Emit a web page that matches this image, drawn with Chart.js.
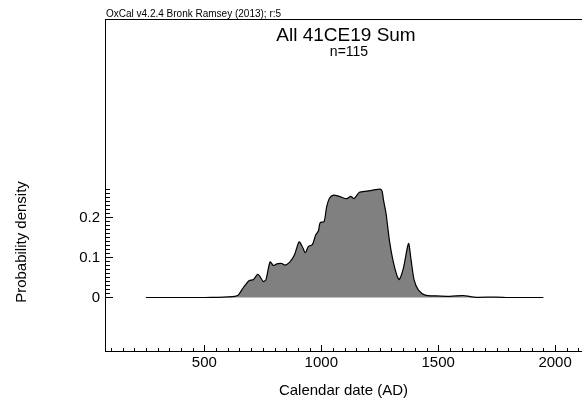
<!DOCTYPE html>
<html>
<head>
<meta charset="utf-8">
<script src="https://cdn.jsdelivr.net/npm/chart.js@4"></script>
<style>
  html, body { margin: 0; padding: 0; background: #fff; }
  canvas { display: block; }
</style>
</head>
<body>
<canvas id="chart" width="582" height="401"></canvas>
<script>
// summed probability
const years = [250, 500, 560, 600, 630, 645, 667, 691, 710, 728, 738, 752, 763, 781, 795, 810, 831, 845, 866, 885,
    905, 919, 932, 945, 962, 976, 988, 995, 1012, 1023, 1035, 1052, 1080, 1109, 1126, 1140, 1163, 1195, 1216, 1252,
    1260, 1266, 1277, 1291, 1306, 1323, 1333, 1351, 1373, 1384, 1397, 1415, 1444, 1494, 1551, 1608, 1637, 1665, 1750,
    1800, 1950];
const density = [0, 0, 0.0005, 0.0015, 0.003, 0.006, 0.025, 0.042, 0.045, 0.058, 0.052, 0.040, 0.044, 0.089, 0.080,
    0.084, 0.085, 0.081, 0.089, 0.106, 0.139, 0.127, 0.112, 0.128, 0.132, 0.156, 0.167, 0.187, 0.19, 0.227, 0.248,
    0.256, 0.252, 0.247, 0.253, 0.247, 0.263, 0.266, 0.268, 0.271, 0.266, 0.244, 0.21, 0.144, 0.094, 0.056, 0.045,
    0.073, 0.135, 0.094, 0.044, 0.019, 0.006, 0.004, 0.003, 0.005, 0.002, 0.0005, 0.001, 0, 0];

const xTicks = [500, 1000, 1500, 2000];
const yTicks = [0, 0.1, 0.2];

const FONT = "'Liberation Sans', Arial, sans-serif";
Chart.defaults.font.family = FONT;
Chart.defaults.color = "#000";

const frame = {
    id: "frame",
    afterDraw(chart) {
        const { ctx, chartArea: a, scales: { x, y } } = chart;
        ctx.save();
        ctx.strokeStyle = "#000";
        ctx.lineWidth = 1;
        ctx.beginPath();
        ctx.moveTo(a.left, Math.round(a.top) + 0.5);
        ctx.lineTo(a.right, Math.round(a.top) + 0.5);
        // x ticks, pointing into the plot
        for (let v = 100; v <= 2100; v += 50) {
            const px = Math.round(x.getPixelForValue(v)) + 0.5;
            const len = v % 500 === 0 ? 6 : 3;
            ctx.moveTo(px, a.bottom);
            ctx.lineTo(px, a.bottom - len);
        }
        // y ticks
        for (let i = 0; i <= 27; i++) {
            const py = Math.round(y.getPixelForValue(i / 100)) + 0.5;
            const len = i % 10 === 0 ? 8 : 5;
            ctx.moveTo(a.left, py);
            ctx.lineTo(a.left + len, py);
        }
        ctx.stroke();

        ctx.fillStyle = "#000";
        ctx.textBaseline = "alphabetic";
        ctx.textAlign = "left";
        ctx.font = "10px " + FONT;
        ctx.fillText("OxCal v4.2.4 Bronk Ramsey (2013); r:5", 106, 17);
        ctx.textAlign = "center";
        ctx.font = "19px " + FONT;
        ctx.fillText("All 41CE19 Sum", 346, 41);
        ctx.font = "14px " + FONT;
        ctx.fillText("n=115", 349, 55.5);

        ctx.translate(26, 242);
        ctx.rotate(-Math.PI / 2);
        ctx.font = "15px " + FONT;
        ctx.fillText("Probability density", 0, 0);
        ctx.restore();
    }
};

new Chart(document.getElementById("chart"), {
    type: "line",
    data: {
        datasets: [{
            data: years.map((yr, i) => ({ x: yr, y: density[i] })),
            borderColor: "#000",
            borderWidth: 1.2,
            backgroundColor: "rgb(128,128,128)",
            fill: "origin",
            pointRadius: 0,
            tension: 0.25,
        }]
    },
    options: {
        responsive: false,
        animation: false,
        layout: { padding: { top: 19, left: 0, right: 0, bottom: 0 } },
        plugins: { legend: { display: false }, tooltip: { enabled: false } },
        scales: {
            x: {
                type: "linear",
                min: 75,
                max: 2115,
                grid: { display: false },
                border: { display: true, color: "#000", width: 1 },
                ticks: { font: { size: 15 }, padding: -5, maxRotation: 0, autoSkip: false, callback: v => String(v) },
                afterBuildTicks: s => { s.ticks = xTicks.map(v => ({ value: v })); },
                afterFit: s => { s.height = 50; },
                title: { display: true, text: "Calendar date (AD)", font: { size: 15 }, padding: { top: 0, bottom: 1 } }
            },
            y: {
                type: "linear",
                min: -0.1338,
                max: 0.6963,
                grid: { display: false },
                border: { display: true, color: "#000", width: 1 },
                ticks: { font: { size: 15 }, padding: -3, callback: v => v === 0 ? "0" : v.toFixed(1) },
                afterBuildTicks: s => { s.ticks = yTicks.map(v => ({ value: v })); },
                afterFit: s => { s.width = 105; }
            }
        }
    },
    plugins: [frame]
});
</script>
</body>
</html>
